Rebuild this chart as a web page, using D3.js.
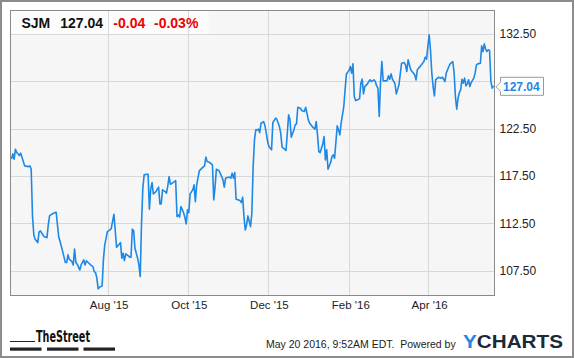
<!DOCTYPE html>
<html>
<head>
<meta charset="utf-8">
<script src="https://cdn.jsdelivr.net/npm/d3@7"></script>
<style>
  body { margin: 0; background: #fff; }
  svg { display: block; font-family: "Liberation Sans", Arial, sans-serif; }
</style>
</head>
<body>
<svg id="chart" width="575" height="358"></svg>
<script>
// SJM daily closes
var dates = [
  "2015-05-19","2015-05-20","2015-05-21","2015-05-22","2015-05-23","2015-05-25","2015-05-26","2015-05-27","2015-05-29",
  "2015-06-01","2015-06-02","2015-06-03","2015-06-04","2015-06-05","2015-06-06","2015-06-08","2015-06-09","2015-06-10",
  "2015-06-12","2015-06-13","2015-06-15","2015-06-16","2015-06-17","2015-06-19","2015-06-21","2015-06-22","2015-06-23",
  "2015-06-24","2015-06-25","2015-06-27","2015-06-29","2015-06-30",
  "2015-07-01","2015-07-02","2015-07-04","2015-07-05","2015-07-06","2015-07-07","2015-07-08","2015-07-10","2015-07-11",
  "2015-07-13","2015-07-14","2015-07-15","2015-07-17","2015-07-18","2015-07-20","2015-07-21","2015-07-22","2015-07-23",
  "2015-07-24","2015-07-25","2015-07-27","2015-07-28","2015-07-29","2015-07-31",
  "2015-08-02","2015-08-03","2015-08-05","2015-08-07","2015-08-09","2015-08-10","2015-08-11","2015-08-12","2015-08-13",
  "2015-08-14","2015-08-16","2015-08-17","2015-08-18","2015-08-19","2015-08-20","2015-08-21","2015-08-23","2015-08-24",
  "2015-08-25","2015-08-26","2015-08-27","2015-08-28","2015-08-30","2015-08-31",
  "2015-09-01","2015-09-02","2015-09-03","2015-09-04","2015-09-06","2015-09-07","2015-09-08","2015-09-09","2015-09-10",
  "2015-09-11","2015-09-13","2015-09-14","2015-09-15","2015-09-16","2015-09-17","2015-09-19","2015-09-20","2015-09-21",
  "2015-09-22","2015-09-23","2015-09-24","2015-09-25","2015-09-27","2015-09-28","2015-09-29","2015-09-30",
  "2015-10-01","2015-10-02","2015-10-04","2015-10-05","2015-10-06","2015-10-07","2015-10-09","2015-10-11","2015-10-13",
  "2015-10-14","2015-10-15","2015-10-17","2015-10-19","2015-10-20","2015-10-21","2015-10-22","2015-10-24","2015-10-26",
  "2015-10-27","2015-10-28","2015-10-29","2015-10-31",
  "2015-11-01","2015-11-02","2015-11-03","2015-11-04","2015-11-05","2015-11-06","2015-11-08","2015-11-09","2015-11-10",
  "2015-11-11","2015-11-12","2015-11-13","2015-11-14","2015-11-15","2015-11-17","2015-11-18","2015-11-19","2015-11-20",
  "2015-11-21","2015-11-22","2015-11-23","2015-11-24","2015-11-25","2015-11-27","2015-11-28","2015-11-29","2015-11-30",
  "2015-12-01","2015-12-03","2015-12-04","2015-12-05","2015-12-06","2015-12-07","2015-12-09","2015-12-10","2015-12-11",
  "2015-12-13","2015-12-14","2015-12-15","2015-12-16","2015-12-17","2015-12-18","2015-12-20","2015-12-21","2015-12-22",
  "2015-12-23","2015-12-25","2015-12-26","2015-12-28","2015-12-29","2015-12-31",
  "2016-01-01","2016-01-03","2016-01-05","2016-01-06","2016-01-07","2016-01-08","2016-01-09","2016-01-10","2016-01-11",
  "2016-01-12","2016-01-13","2016-01-14","2016-01-15","2016-01-17","2016-01-18","2016-01-19","2016-01-20","2016-01-22",
  "2016-01-23","2016-01-24","2016-01-25","2016-01-27","2016-01-28","2016-01-29","2016-01-31",
  "2016-02-01","2016-02-02","2016-02-03","2016-02-04","2016-02-05","2016-02-06","2016-02-08","2016-02-09","2016-02-10",
  "2016-02-11","2016-02-12","2016-02-14","2016-02-15","2016-02-16","2016-02-17","2016-02-19","2016-02-20","2016-02-21",
  "2016-02-22","2016-02-23","2016-02-24","2016-02-25","2016-02-26","2016-02-28","2016-02-29",
  "2016-03-01","2016-03-02","2016-03-03","2016-03-04","2016-03-06","2016-03-07","2016-03-09","2016-03-11","2016-03-13",
  "2016-03-14","2016-03-15","2016-03-16","2016-03-18","2016-03-19","2016-03-21","2016-03-22","2016-03-23","2016-03-24",
  "2016-03-26","2016-03-28","2016-03-29","2016-03-30",
  "2016-04-01","2016-04-02","2016-04-03","2016-04-04","2016-04-05","2016-04-06","2016-04-08","2016-04-10","2016-04-11",
  "2016-04-12","2016-04-13","2016-04-14","2016-04-16","2016-04-17","2016-04-19","2016-04-20","2016-04-21","2016-04-22",
  "2016-04-23","2016-04-24","2016-04-25","2016-04-26","2016-04-27","2016-04-28","2016-04-29","2016-04-30",
  "2016-05-01","2016-05-02","2016-05-03","2016-05-05","2016-05-06","2016-05-07","2016-05-08","2016-05-10","2016-05-11",
  "2016-05-12","2016-05-13","2016-05-14","2016-05-15","2016-05-16","2016-05-17","2016-05-18","2016-05-19","2016-05-20"
];

var prices = [
  119.29,119.85,119.29,120.34,119.99,119.67,119.92,119.50,118.58,
  118.50,118.58,118.23,113.22,111.28,110.83,110.47,111.60,111.71,
  111.25,111.10,111.00,112.34,113.29,113.50,113.64,113.68,112.34,
  111.04,110.58,109.52,108.36,108.36,
  109.17,108.72,108.46,108.11,109.80,108.36,108.19,107.58,108.11,
  108.64,108.11,108.54,108.29,108.14,107.93,107.40,107.30,106.70,
  105.58,105.76,105.90,108.70,110.20,111.63,
  111.81,111.99,113.47,109.98,110.30,110.47,108.82,109.35,108.57,
  109.28,109.06,108.93,108.93,111.89,111.74,109.88,108.82,108.11,
  106.88,112.52,116.22,117.63,117.70,117.70,
  114.00,116.12,116.81,115.62,115.86,116.12,116.33,114.56,114.56,
  116.04,115.86,115.69,116.46,117.45,116.64,116.81,116.92,117.02,
  113.22,113.40,113.16,114.28,113.64,113.16,112.45,113.93,
  113.64,115.62,116.04,116.57,114.80,116.57,118.05,118.34,118.58,
  119.50,119.03,118.93,118.68,114.98,116.39,118.23,118.08,117.45,
  117.10,116.33,117.28,117.38,
  117.38,117.28,117.81,117.28,117.87,115.06,114.98,114.91,114.70,
  115.27,113.22,111.81,112.34,113.29,112.16,113.58,118.50,121.33,
  122.38,122.38,122.46,122.10,123.09,123.26,122.81,122.04,121.15,
  120.62,120.27,123.16,123.37,123.62,123.51,122.73,122.04,120.56,
  120.34,120.20,122.04,123.97,123.50,121.61,122.38,122.91,123.02,
  124.78,124.68,124.42,124.32,124.78,123.44,
  123.09,122.73,122.46,123.26,121.86,120.09,119.98,120.45,120.90,
  121.68,119.21,120.27,118.23,118.93,119.56,119.74,119.39,122.81,
  122.38,121.86,123.09,124.85,126.61,128.30,128.65,
  129.08,128.38,129.36,125.90,125.48,125.55,125.66,127.32,127.74,
  126.19,126.96,127.25,127.49,127.67,127.49,127.67,127.49,127.03,
  126.79,123.79,127.49,129.60,127.56,127.56,127.60,
  128.09,127.74,128.30,127.78,127.25,126.19,127.14,129.43,129.50,
  129.25,128.55,129.78,128.73,128.55,128.20,127.67,128.73,128.91,
  129.25,129.60,130.07,129.86,
  132.43,130.84,128.44,126.96,125.98,127.67,127.95,127.85,127.95,
  127.74,127.49,128.38,129.08,129.36,129.60,128.44,125.90,124.57,
  125.73,126.33,126.61,127.74,127.32,127.85,127.04,127.25,
  127.67,126.96,127.38,127.85,128.38,129.25,129.36,129.43,131.26,
  130.66,131.47,130.91,130.66,130.84,130.77,127.49,126.79,127.04
];

var yTicks = [107.5, 112.5, 117.5, 122.5, 127.5, 132.5];
var xTicks = ["2015-08-01", "2015-10-01", "2015-12-01", "2016-02-01", "2016-04-01"];

var ticker = "SJM",
    lastPrice = "127.04",
    change = "-0.04",
    changePct = "-0.03%",
    stamp = "May 20 2016, 9:52AM EDT.  Powered by";

var FONT = "'Liberation Sans', Arial, sans-serif",
    BLUE = "#1e88e5",
    RED = "#ee0000";

var svg = d3.select("#chart");
var plot = {left: 10.5, top: 10.5, right: 494.5, bottom: 295.5};

var parse = d3.timeParse("%Y-%m-%d");
var data = dates.map(function(d, i) { return {date: parse(d), value: prices[i]}; });
var last = data[data.length - 1];

var x = d3.scaleTime()
  .domain(d3.extent(data, function(d) { return d.date; }))
  .range([11.5, 493.5]);
var y = d3.scaleLinear()
  .domain([104.88, 135])
  .range([plot.bottom, plot.top]);

// outer frame
svg.append("rect")
  .attr("x", 1).attr("y", 1).attr("width", 572).attr("height", 356)
  .attr("fill", "#fff").attr("stroke", "#8c8c8c").attr("stroke-width", 2);

// plot background + header patch
svg.append("rect")
  .attr("x", plot.left).attr("y", plot.top)
  .attr("width", plot.right - plot.left).attr("height", plot.bottom - plot.top)
  .attr("fill", "#f6f6f6");
svg.append("rect")
  .attr("x", plot.left).attr("y", plot.top)
  .attr("width", 198).attr("height", 23.5)
  .attr("fill", "#fcfcfc");

// grid
var grid = svg.append("g").attr("stroke", "#d8d8d8").attr("stroke-width", 1);
grid.selectAll("line.h").data(yTicks).enter().append("line")
  .attr("class", "h")
  .attr("x1", plot.left).attr("x2", plot.right)
  .attr("y1", function(d) { return Math.round(y(d)) + 0.5; })
  .attr("y2", function(d) { return Math.round(y(d)) + 0.5; });
grid.selectAll("line.v").data(xTicks.map(parse)).enter().append("line")
  .attr("class", "v")
  .attr("y1", plot.top).attr("y2", plot.bottom)
  .attr("x1", function(d) { return Math.round(x(d)) - 0.5; })
  .attr("x2", function(d) { return Math.round(x(d)) - 0.5; });

// price line
var line = d3.line()
  .x(function(d) { return x(d.date); })
  .y(function(d) { return y(d.value); });
svg.append("path")
  .datum(data)
  .attr("d", line)
  .attr("fill", "none")
  .attr("stroke", BLUE)
  .attr("stroke-width", 1.6)
  .attr("stroke-linejoin", "round");

// plot border
svg.append("rect")
  .attr("x", plot.left).attr("y", plot.top)
  .attr("width", plot.right - plot.left).attr("height", plot.bottom - plot.top)
  .attr("fill", "none").attr("stroke", "#8a8a8a").attr("stroke-width", 1);

// axes (the tick label hidden under the last-price flag is left out)
var yAxis = svg.append("g")
  .attr("transform", "translate(" + plot.right + ",0)")
  .call(d3.axisRight(y).tickValues(yTicks).tickFormat(d3.format(".2f")).tickSize(0).tickPadding(5));
yAxis.select(".domain").remove();
yAxis.attr("font-family", FONT).attr("font-size", 12);
yAxis.selectAll("text").attr("fill", "#222");
yAxis.selectAll(".tick")
  .filter(function(d) { return Math.abs(y(d) - y(last.value)) < 12; })
  .remove();

var xAxis = svg.append("g")
  .attr("transform", "translate(0," + plot.bottom + ")")
  .call(d3.axisBottom(x).tickValues(xTicks.map(parse)).tickFormat(d3.timeFormat("%b '%y")).tickSize(0).tickPadding(5.5));
xAxis.select(".domain").remove();
xAxis.attr("font-family", FONT).attr("font-size", 11.5);
xAxis.selectAll("text").attr("fill", "#222");

// last price flag
var flag = svg.append("g").attr("transform", "translate(0," + y(last.value) + ")");
flag.append("path")
  .attr("d", "M496,1 L500.5,-3.5 L500.5,-8.5 L543.5,-8.5 L543.5,9.5 L500.5,9.5 L500.5,5.5 Z")
  .attr("fill", "#fff").attr("stroke", "#9a9a9a").attr("stroke-width", 1);
flag.append("text")
  .attr("x", 503).attr("y", 5.6)
  .attr("font-family", FONT).attr("font-size", 12).attr("font-weight", "bold")
  .attr("fill", BLUE)
  .text(d3.format(".2f")(last.value));

// header
var head = svg.append("g")
  .attr("font-family", FONT).attr("font-size", 14).attr("font-weight", "bold");
head.append("text").attr("x", 21.5).attr("y", 28.3).attr("fill", "#111").text(ticker);
head.append("text").attr("x", 60.3).attr("y", 28.3).attr("fill", "#111").text(lastPrice);
head.append("text").attr("x", 113.3).attr("y", 28.3).attr("fill", RED).text(change);
head.append("text").attr("x", 154).attr("y", 28.3).attr("fill", RED).text(changePct);

// footer: TheStreet logo
var logo = svg.append("g");
logo.append("text")
  .attr("x", 36).attr("y", 341.5)
  .attr("font-family", "'Liberation Sans Narrow', 'DejaVu Sans Condensed', sans-serif")
  .attr("font-weight", "bold").attr("font-size", 16)
  .attr("textLength", 54).attr("lengthAdjust", "spacingAndGlyphs")
  .attr("fill", "#111")
  .text("TheStreet");
logo.append("line")
  .attr("x1", 10).attr("x2", 35).attr("y1", 341.5).attr("y2", 341.5)
  .attr("stroke", "#222").attr("stroke-width", 1);
logo.selectAll("rect").data([10, 47, 83.5]).enter().append("rect")
  .attr("x", function(d) { return d; }).attr("y", 347.5)
  .attr("width", 31.5).attr("height", 3.2)
  .attr("fill", "#222");

// footer: timestamp + YCHARTS
svg.append("text")
  .attr("x", 266).attr("y", 348.3)
  .attr("font-family", FONT).attr("font-size", 10.5)
  .attr("fill", "#222")
  .style("white-space", "pre")
  .text(stamp);
var yc = svg.append("text")
  .attr("x", 463).attr("y", 348.3)
  .attr("font-family", FONT).attr("font-weight", "bold").attr("font-size", 18.5)
  .attr("textLength", 100).attr("lengthAdjust", "spacingAndGlyphs");
yc.append("tspan").attr("fill", BLUE).text("Y");
yc.append("tspan").attr("fill", "#1b2a3a").text("CHARTS");
</script>
</body>
</html>
